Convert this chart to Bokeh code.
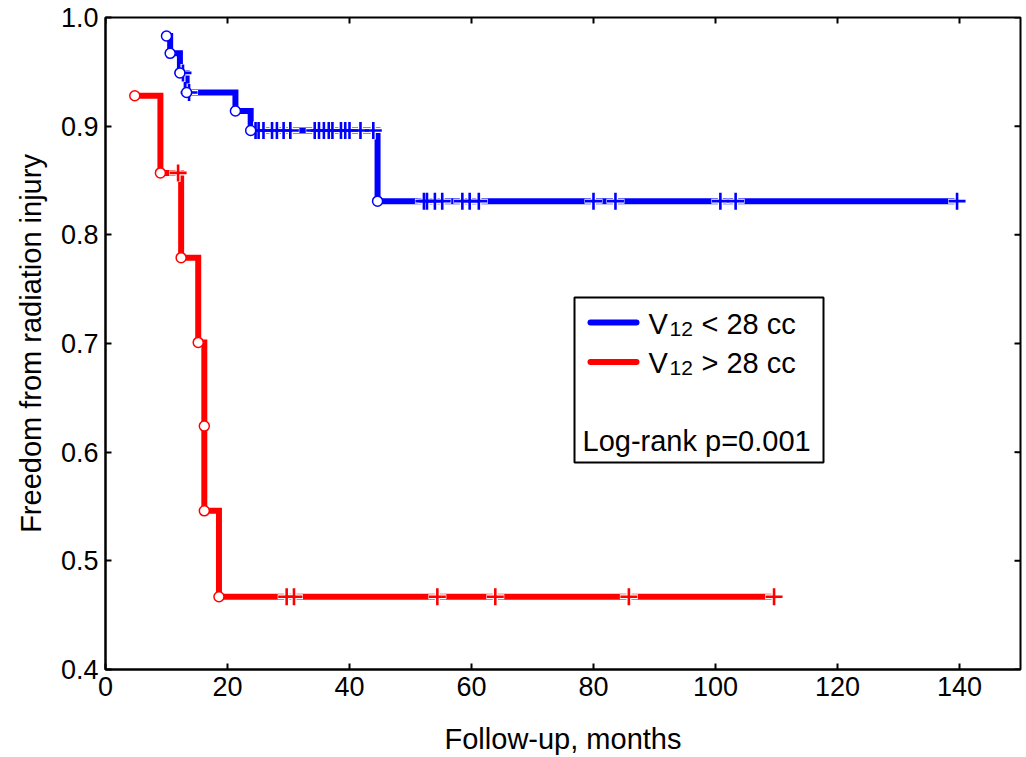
from bokeh.plotting import figure
from bokeh.models import Range1d, FixedTicker, PrintfTickFormatter, BoxAnnotation, Label
from bokeh.embed import file_html
from bokeh.resources import INLINE

# ---------------- data ----------------
blue_event_t = [10.0, 10.6, 12.2, 13.3, 21.3, 23.8, 44.6]
blue_event_s = [0.983, 0.967, 0.949, 0.931, 0.914, 0.896, 0.831]
blue_cens_t = [12.7, 13.7,
               24.6, 25.1, 25.9, 27.3, 28.1, 29.2, 30.3,
               34.3, 35.0, 35.8, 36.6, 37.2, 38.6, 39.3, 40.0, 41.8, 43.9,
               52.2, 52.7, 54.0, 55.2, 58.5, 59.7, 61.2, 80.0, 83.6,
               100.8, 103.3, 139.6]
blue_cens_s = [0.949, 0.931] + [0.896] * 17 + [0.831] * 12

red_event_t = [4.8, 9.0, 12.4, 15.2, 16.2, 16.2, 18.6]
red_event_s = [0.928, 0.857, 0.779, 0.701, 0.624, 0.546, 0.467]
red_cens_t = [11.9, 29.7, 30.9, 54.4, 63.9, 85.8, 109.6]
red_cens_s = [0.857] + [0.467] * 6

x_ticks = [0, 20, 40, 60, 80, 100, 120, 140]
y_ticks = [0.4, 0.5, 0.6, 0.7, 0.8, 0.9, 1.0]

legend_labels = ["< 28 cc", "> 28 cc"]
pvalue_text = "Log-rank p=0.001"

BLUE = "#0000ff"
RED = "#ff0000"
FONT = "Liberation Sans"

# ---------------- layout ----------------
W, H = 1026, 757
BL, BR, BT, BB = 105, 6, 17, 88
X0, X1, Y0, Y1 = 0, 150, 0.4, 1.0
FW, FH = W - BL - BR, H - BT - BB
TICK = 6  # px


def gx(xp):
    return X0 + (xp - BL) / FW * (X1 - X0)


def gy(yp):
    return Y1 - (yp - BT) / FH * (Y1 - Y0)


p = figure(width=W, height=H, x_range=Range1d(X0, X1), y_range=Range1d(Y0, Y1),
           output_backend="svg", toolbar_location=None,
           min_border_left=BL, min_border_right=BR, min_border_top=BT, min_border_bottom=BB)
p.background_fill_color = "white"
p.border_fill_color = "white"
p.outline_line_color = "black"
p.outline_line_width = 2
p.outline_line_alpha = 1.0
p.xgrid.grid_line_color = None
p.ygrid.grid_line_color = None

for ax, ticks in ((p.xaxis[0], x_ticks), (p.yaxis[0], y_ticks)):
    ax.ticker = FixedTicker(ticks=ticks)
    ax.axis_line_width = 2
    ax.axis_line_color = "black"
    ax.major_tick_in = TICK
    ax.major_tick_out = 0
    ax.major_tick_line_width = 2
    ax.minor_tick_line_color = None
    ax.major_label_text_font = FONT
    ax.major_label_text_font_size = "27px"
    ax.major_label_text_color = "black"
    ax.axis_label_text_font = FONT
    ax.axis_label_text_font_size = "29px"
    ax.axis_label_text_font_style = "normal"
    ax.axis_label_text_color = "black"

p.yaxis[0].formatter = PrintfTickFormatter(format="%.1f")
p.xaxis[0].axis_label = "Follow-up, months"
p.yaxis[0].axis_label = "Freedom from radiation injury"
p.xaxis[0].major_label_standoff = 7
p.xaxis[0].axis_label_standoff = 24
p.yaxis[0].major_label_standoff = 7
p.yaxis[0].axis_label_standoff = 11

# inward ticks on the top and right edges of the frame
dy_tick = TICK / FH * (Y1 - Y0)
dx_tick = TICK / FW * (X1 - X0)
p.segment(x0=x_ticks, x1=x_ticks, y0=[Y1] * len(x_ticks), y1=[Y1 - dy_tick] * len(x_ticks),
          line_color="black", line_width=2)
p.segment(x0=[X1] * len(y_ticks), x1=[X1 - dx_tick] * len(y_ticks), y0=y_ticks, y1=y_ticks,
          line_color="black", line_width=2)

# ---------------- curves ----------------
for ev_t, ev_s, c_t, c_s, col in ((red_event_t, red_event_s, red_cens_t, red_cens_s, RED),
                                   (blue_event_t, blue_event_s, blue_cens_t, blue_cens_s, BLUE)):
    xs = ev_t + [max(c_t)]
    ys = ev_s + [ev_s[-1]]
    p.step(xs, ys, mode="after", line_color=col, line_width=6, line_join="miter")
    p.scatter(c_t, c_s, marker="cross", size=18, line_color="white", line_width=5, fill_color=None)
    p.scatter(c_t, c_s, marker="cross", size=17, line_color=col, line_width=2.6, fill_color=None)
    p.scatter(ev_t, ev_s, marker="circle", size=10, line_color=col, line_width=1.5, fill_color="white")

# ---------------- legend ----------------
p.add_layout(BoxAnnotation(left=gx(574), right=gx(823), top=gy(297), bottom=gy(462),
                           fill_color="white", fill_alpha=1.0, line_color="black",
                           line_alpha=1.0, line_width=2, level="underlay"))
for i, (col, lab) in enumerate(zip([BLUE, RED], legend_labels)):
    yl = 322 + 39.5 * i
    yb = 323 + 39.5 * i
    p.segment(x0=[gx(590)], x1=[gx(636)], y0=[gy(yl)], y1=[gy(yl)],
              line_color=col, line_width=6, line_cap="round")
    p.add_layout(Label(x=gx(648), y=gy(yb), text="V", text_font=FONT, text_font_size="29px",
                       text_baseline="alphabetic", text_color="black"))
    p.add_layout(Label(x=gx(669), y=gy(yb + 5), text="12", text_font=FONT, text_font_size="21px",
                       text_baseline="alphabetic", text_color="black"))
    p.add_layout(Label(x=gx(701), y=gy(yb), text=lab, text_font=FONT, text_font_size="29px",
                       text_baseline="alphabetic", text_color="black"))
p.add_layout(Label(x=gx(582), y=gy(440), text=pvalue_text, text_font=FONT, text_font_size="29px",
                   text_baseline="alphabetic", text_color="black"))

open("out.html", "w").write(file_html(p, INLINE))
